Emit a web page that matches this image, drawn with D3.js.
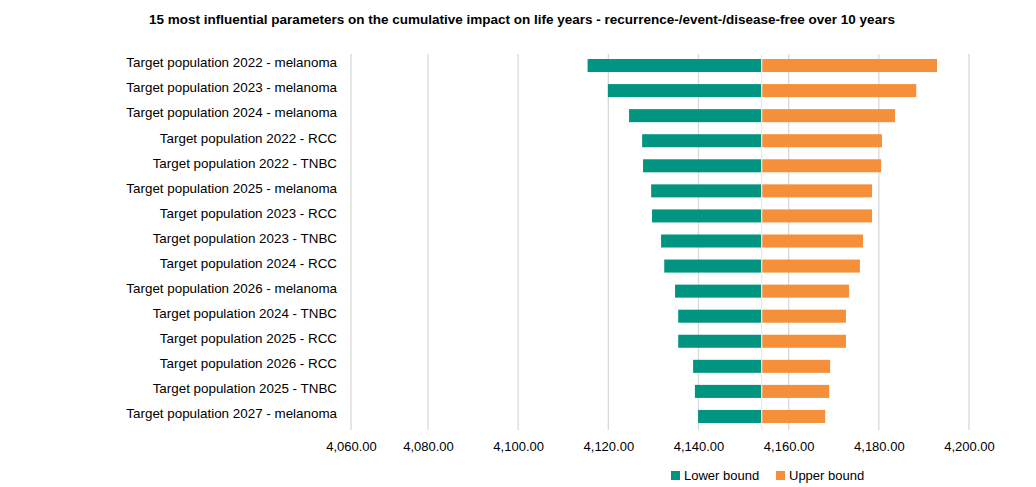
<!DOCTYPE html>
<html><head><meta charset="utf-8">
<script src="https://cdn.jsdelivr.net/npm/d3@7"></script>
<style>body{margin:0;background:#fff;} text{font-family:"Liberation Sans",Arial,sans-serif;}</style>
</head><body><svg id="c" width="1036" height="487"></svg>
<script>
const title = "15 most influential parameters on the cumulative impact on life years - recurrence-/event-/disease-free over 10 years";
const categories = [
 "Target population 2022 - melanoma","Target population 2023 - melanoma","Target population 2024 - melanoma",
 "Target population 2022 - RCC","Target population 2022 - TNBC","Target population 2025 - melanoma",
 "Target population 2023 - RCC","Target population 2023 - TNBC","Target population 2024 - RCC",
 "Target population 2026 - melanoma","Target population 2024 - TNBC","Target population 2025 - RCC",
 "Target population 2026 - RCC","Target population 2025 - TNBC","Target population 2027 - melanoma"];
const baseValue = 4153.9;
const lowerBound = [4115.4,4119.9,4124.6,4127.5,4127.7,4129.5,4129.7,4131.7,4132.4,4134.8,4135.5,4135.5,4138.8,4139.2,4139.9];
const upperBound = [4192.9,4188.3,4183.6,4180.7,4180.5,4178.5,4178.5,4176.5,4175.8,4173.4,4172.7,4172.7,4169.2,4169.0,4168.1];
const tickValues = [4060,4080,4100,4120,4140,4160,4180,4200];
const seriesNames = ["Lower bound","Upper bound"];
const colors = ["#009481","#F58F3A"];

const svg = d3.select("#c");
const x = d3.scaleLinear().domain([4060,4080,4200]).range([351,428,969]);
const y = d3.scaleBand().domain(categories).range([53,429]).paddingInner(0.48).paddingOuter(0.24);

svg.append("text").attr("x",522).attr("y",24).attr("text-anchor","middle")
  .attr("font-size","13.5px").attr("font-weight","bold").attr("fill","#000").text(title);

// gridlines
svg.append("g").selectAll("line").data(tickValues).join("line")
  .attr("x1",d=>x(d)).attr("x2",d=>x(d)).attr("y1",54).attr("y2",430)
  .attr("stroke","#d9d9d9").attr("stroke-width",1.3);

// x axis labels
const xa = svg.append("g").attr("transform","translate(0,430)")
  .call(d3.axisBottom(x).tickValues(tickValues).tickSize(0).tickPadding(12).tickFormat(d3.format(",.2f")));
xa.select(".domain").remove();
xa.selectAll("text").attr("font-size","13px").attr("fill","#000").style("font-family","'Liberation Sans',Arial,sans-serif");

// bars
svg.append("g").selectAll("rect").data(categories).join("rect")
  .attr("x",(d,i)=>x(lowerBound[i])).attr("width",(d,i)=>x(baseValue)-x(lowerBound[i]))
  .attr("y",d=>y(d)).attr("height",y.bandwidth()).attr("fill",colors[0]);
svg.append("g").selectAll("rect").data(categories).join("rect")
  .attr("x",()=>x(baseValue)+1).attr("width",(d,i)=>x(upperBound[i])-x(baseValue)-1)
  .attr("y",d=>y(d)).attr("height",y.bandwidth()).attr("fill",colors[1]);
// base line
svg.append("line").attr("x1",x(baseValue)+0.5).attr("x2",x(baseValue)+0.5).attr("y1",54).attr("y2",430)
  .attr("stroke","#e6e6e6").attr("stroke-width",1);

// y axis labels
const ya = svg.append("g").attr("transform","translate(337,-2.5)")
  .call(d3.axisLeft(y).tickSize(0).tickPadding(0));
ya.select(".domain").remove();
ya.selectAll("text").attr("font-size","13.4px").attr("fill","#000").style("font-family","'Liberation Sans',Arial,sans-serif");

// legend
const lg = svg.append("g");
const lx = [671,776];
seriesNames.forEach((n,i)=>{
  lg.append("rect").attr("x",lx[i]).attr("y",471).attr("width",9).attr("height",9).attr("fill",colors[i]);
  lg.append("text").attr("x",lx[i]+13).attr("y",480).attr("font-size","13px").attr("fill","#000").text(n);
});
</script></body></html>
